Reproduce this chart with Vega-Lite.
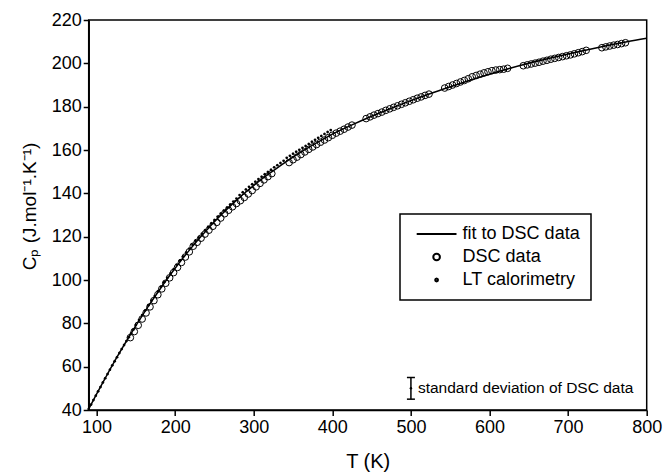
{
  "$schema": "https://vega.github.io/schema/vega-lite/v6.json",
  "width": 558,
  "height": 390,
  "autosize": {"type": "none"},
  "padding": {"left": 88.7, "top": 20, "right": 16.3, "bottom": 62},
  "background": "white",
  "config": {
    "font": "Liberation Sans",
    "view": {"stroke": "black", "strokeWidth": 1.5},
    "axis": {
      "domainColor": "black", "domainWidth": 1.5,
      "tickColor": "black", "tickWidth": 1.5, "tickSize": 5.5,
      "labelColor": "black", "labelFontSize": 18, "labelFont": "Liberation Sans",
      "labelOverlap": false, "labelBound": false, "labelFlush": false,
      "titleFont": "Liberation Sans", "titleFontSize": 20, "titleFontWeight": "normal", "titleColor": "black",
      "grid": false
    },
    "legend": {"strokeWidth": 1.5}
  },
  "datasets": {
    "fit": [
      {"T": 90, "Cp": 40.5}, {"T": 100, "Cp": 47.3}, {"T": 110, "Cp": 54}, {"T": 120, "Cp": 60.6},
      {"T": 130, "Cp": 66.9}, {"T": 140, "Cp": 73}, {"T": 150, "Cp": 78.9}, {"T": 160, "Cp": 84.6},
      {"T": 170, "Cp": 90.1}, {"T": 180, "Cp": 95.4}, {"T": 190, "Cp": 100.5}, {"T": 200, "Cp": 105.4},
      {"T": 210, "Cp": 110.1}, {"T": 220, "Cp": 114.6}, {"T": 230, "Cp": 118.9}, {"T": 240, "Cp": 123},
      {"T": 250, "Cp": 126.9}, {"T": 260, "Cp": 130.6}, {"T": 270, "Cp": 134.1}, {"T": 280, "Cp": 137.4},
      {"T": 290, "Cp": 140.6}, {"T": 300, "Cp": 143.6}, {"T": 310, "Cp": 146.5}, {"T": 320, "Cp": 149.2},
      {"T": 330, "Cp": 151.8}, {"T": 340, "Cp": 154.3}, {"T": 350, "Cp": 156.7}, {"T": 360, "Cp": 159},
      {"T": 370, "Cp": 161.2}, {"T": 380, "Cp": 163.3}, {"T": 390, "Cp": 165.3}, {"T": 400, "Cp": 167.3},
      {"T": 425, "Cp": 171.6}, {"T": 450, "Cp": 175.6}, {"T": 475, "Cp": 179.3}, {"T": 500, "Cp": 182.8},
      {"T": 525, "Cp": 186.1}, {"T": 550, "Cp": 189.2}, {"T": 575, "Cp": 192.2}, {"T": 600, "Cp": 195},
      {"T": 625, "Cp": 197.6}, {"T": 650, "Cp": 200}, {"T": 675, "Cp": 202.2}, {"T": 700, "Cp": 204.3},
      {"T": 725, "Cp": 206.3}, {"T": 750, "Cp": 208.2}, {"T": 775, "Cp": 210}, {"T": 800, "Cp": 211.6}
    ],
    "dsc": [
      {"T": 143, "Cp": 73.4}, {"T": 148, "Cp": 76.2}, {"T": 153, "Cp": 79.1}, {"T": 158, "Cp": 82},
      {"T": 163, "Cp": 84.8}, {"T": 168, "Cp": 87.6}, {"T": 173, "Cp": 90.5}, {"T": 178, "Cp": 93.2},
      {"T": 183, "Cp": 95.9}, {"T": 188, "Cp": 98.5}, {"T": 193, "Cp": 101}, {"T": 198, "Cp": 103.4},
      {"T": 203, "Cp": 105.8}, {"T": 208, "Cp": 108.1}, {"T": 213, "Cp": 110.6}, {"T": 218, "Cp": 113},
      {"T": 223, "Cp": 115.6}, {"T": 228, "Cp": 117.4}, {"T": 233, "Cp": 119.3}, {"T": 238, "Cp": 121.2},
      {"T": 243, "Cp": 123}, {"T": 248, "Cp": 124.8}, {"T": 253, "Cp": 126.6}, {"T": 258, "Cp": 128.6},
      {"T": 263, "Cp": 130.6}, {"T": 268, "Cp": 132.2}, {"T": 273, "Cp": 133.8}, {"T": 278, "Cp": 135.3},
      {"T": 283, "Cp": 136.6}, {"T": 288, "Cp": 138.1}, {"T": 293, "Cp": 139.7}, {"T": 298, "Cp": 141.3},
      {"T": 303, "Cp": 143}, {"T": 308, "Cp": 144.6}, {"T": 313, "Cp": 146.2}, {"T": 318, "Cp": 147.7},
      {"T": 323, "Cp": 149.1},
      {"T": 345, "Cp": 154.2}, {"T": 350, "Cp": 155.5}, {"T": 355, "Cp": 156.7}, {"T": 360, "Cp": 157.9},
      {"T": 365, "Cp": 159.1}, {"T": 370, "Cp": 160.3}, {"T": 375, "Cp": 161.4}, {"T": 380, "Cp": 162.5},
      {"T": 385, "Cp": 163.6}, {"T": 390, "Cp": 164.6}, {"T": 395, "Cp": 165.7}, {"T": 400, "Cp": 166.8},
      {"T": 405, "Cp": 167.8}, {"T": 410, "Cp": 168.7}, {"T": 415, "Cp": 169.6}, {"T": 420, "Cp": 170.6},
      {"T": 425, "Cp": 171.5},
      {"T": 443, "Cp": 174.5}, {"T": 448, "Cp": 175.3}, {"T": 453, "Cp": 176.1}, {"T": 458, "Cp": 176.8},
      {"T": 463, "Cp": 177.5}, {"T": 468, "Cp": 178.3}, {"T": 473, "Cp": 179}, {"T": 478, "Cp": 179.7},
      {"T": 483, "Cp": 180.4}, {"T": 488, "Cp": 181.1}, {"T": 493, "Cp": 181.8}, {"T": 498, "Cp": 182.5},
      {"T": 503, "Cp": 183.2}, {"T": 508, "Cp": 183.9}, {"T": 513, "Cp": 184.5}, {"T": 518, "Cp": 185.2},
      {"T": 523, "Cp": 185.8},
      {"T": 543, "Cp": 188.6}, {"T": 548, "Cp": 189.3}, {"T": 553, "Cp": 190}, {"T": 558, "Cp": 190.7},
      {"T": 563, "Cp": 191.4}, {"T": 568, "Cp": 192.1}, {"T": 573, "Cp": 192.9}, {"T": 578, "Cp": 193.8},
      {"T": 583, "Cp": 194.4}, {"T": 588, "Cp": 195}, {"T": 593, "Cp": 195.6}, {"T": 598, "Cp": 196.1},
      {"T": 603, "Cp": 196.6}, {"T": 608, "Cp": 196.9}, {"T": 613, "Cp": 197.1}, {"T": 618, "Cp": 197.3},
      {"T": 623, "Cp": 197.7},
      {"T": 643, "Cp": 198.9}, {"T": 648, "Cp": 199.3}, {"T": 653, "Cp": 199.7}, {"T": 658, "Cp": 200.1},
      {"T": 663, "Cp": 200.5}, {"T": 668, "Cp": 201}, {"T": 673, "Cp": 201.4}, {"T": 678, "Cp": 201.9},
      {"T": 683, "Cp": 202.3}, {"T": 688, "Cp": 202.7}, {"T": 693, "Cp": 203.1}, {"T": 698, "Cp": 203.5},
      {"T": 703, "Cp": 203.9}, {"T": 708, "Cp": 204.4}, {"T": 713, "Cp": 204.9}, {"T": 718, "Cp": 205.4},
      {"T": 723, "Cp": 206},
      {"T": 743, "Cp": 207.2}, {"T": 748, "Cp": 207.6}, {"T": 753, "Cp": 208}, {"T": 758, "Cp": 208.4},
      {"T": 763, "Cp": 208.7}, {"T": 768, "Cp": 209.1}, {"T": 773, "Cp": 209.5}
    ],
    "lt": [
      {"T": 90, "Cp": 40.5}, {"T": 93, "Cp": 42.5}, {"T": 96, "Cp": 44.6}, {"T": 99, "Cp": 46.6},
      {"T": 102, "Cp": 48.6}, {"T": 105, "Cp": 50.6}, {"T": 108, "Cp": 52.7}, {"T": 111, "Cp": 54.7},
      {"T": 114, "Cp": 56.6}, {"T": 117, "Cp": 58.6}, {"T": 120, "Cp": 60.6}, {"T": 123, "Cp": 62.5},
      {"T": 126, "Cp": 64.4}, {"T": 129, "Cp": 66.3}, {"T": 132, "Cp": 68.1}, {"T": 135, "Cp": 70},
      {"T": 138, "Cp": 71.8}, {"T": 141, "Cp": 73.6}, {"T": 144, "Cp": 75.4}, {"T": 147, "Cp": 77.2},
      {"T": 150, "Cp": 79.2}, {"T": 154, "Cp": 81.5}, {"T": 158, "Cp": 83.8}, {"T": 162, "Cp": 86},
      {"T": 166, "Cp": 88.3}, {"T": 170, "Cp": 90.5}, {"T": 174, "Cp": 92.6}, {"T": 178, "Cp": 94.8},
      {"T": 182, "Cp": 96.9}, {"T": 186, "Cp": 99}, {"T": 190, "Cp": 101}, {"T": 194, "Cp": 103},
      {"T": 198, "Cp": 105}, {"T": 202, "Cp": 107.1}, {"T": 206, "Cp": 109}, {"T": 210, "Cp": 110.9},
      {"T": 214, "Cp": 112.7}, {"T": 218, "Cp": 114.5}, {"T": 222, "Cp": 116.3}, {"T": 226, "Cp": 118},
      {"T": 230, "Cp": 119.7}, {"T": 234, "Cp": 121.4}, {"T": 238, "Cp": 123}, {"T": 242, "Cp": 124.6},
      {"T": 246, "Cp": 126.2}, {"T": 250, "Cp": 127.7}, {"T": 254, "Cp": 129.2}, {"T": 258, "Cp": 130.7},
      {"T": 262, "Cp": 132.1}, {"T": 266, "Cp": 133.5}, {"T": 270, "Cp": 134.9}, {"T": 274, "Cp": 136.2},
      {"T": 278, "Cp": 137.6}, {"T": 282, "Cp": 139.2}, {"T": 286, "Cp": 140.5}, {"T": 290, "Cp": 141.8},
      {"T": 294, "Cp": 143}, {"T": 298, "Cp": 144.2}, {"T": 302, "Cp": 145.4}, {"T": 306, "Cp": 146.6},
      {"T": 310, "Cp": 147.7}, {"T": 314, "Cp": 148.8}, {"T": 318, "Cp": 149.9}, {"T": 322, "Cp": 150.9},
      {"T": 326, "Cp": 152}, {"T": 330, "Cp": 153}, {"T": 334, "Cp": 154}, {"T": 338, "Cp": 155},
      {"T": 342, "Cp": 156.4}, {"T": 346, "Cp": 157.3}, {"T": 350, "Cp": 158.3}, {"T": 354, "Cp": 159.2},
      {"T": 358, "Cp": 160.1}, {"T": 362, "Cp": 161}, {"T": 366, "Cp": 161.9}, {"T": 370, "Cp": 162.8},
      {"T": 374, "Cp": 163.8}, {"T": 378, "Cp": 164.7}, {"T": 382, "Cp": 165.6}, {"T": 386, "Cp": 166.5},
      {"T": 390, "Cp": 167.4}, {"T": 394, "Cp": 168.3}, {"T": 398, "Cp": 169.2}
    ],
    "sd": [
      {"T": 500, "Cp": 50, "lo": 45, "hi": 55, "label": "standard deviation of DSC data"}
    ]
  },
  "encoding": {
    "x": {
      "field": "T", "type": "quantitative",
      "scale": {"domain": [90, 800], "nice": false, "zero": false},
      "axis": {
        "values": [100, 200, 300, 400, 500, 600, 700, 800],
        "title": "T (K)", "titleX": 279, "titleY": 57,
        "titleBaseline": "alphabetic", "titleAlign": "center", "labelPadding": 3
      }
    },
    "y": {
      "field": "Cp", "type": "quantitative",
      "scale": {"domain": [40, 220], "nice": false, "zero": false},
      "axis": {
        "values": [40, 60, 80, 100, 120, 140, 160, 180, 200, 220],
        "title": "Cₚ (J.mol⁻¹.K⁻¹)", "titleX": -53, "titleY": 186, "titleAngle": 270,
        "titleFontSize": 19, "titleBaseline": "alphabetic", "titleAlign": "center", "labelPadding": 2
      }
    }
  },
  "layer": [
    {
      "data": {"name": "fit"},
      "mark": {"type": "line", "color": "black", "strokeWidth": 1.5, "interpolate": "monotone"}
    },
    {
      "data": {"name": "dsc"},
      "mark": {"type": "point", "filled": false, "stroke": "black", "color": "black", "strokeWidth": 1, "size": 44, "opacity": 1},
      "encoding": {
        "shape": {
          "datum": "DSC data", "type": "nominal",
          "scale": {
            "domain": ["fit to DSC data", "DSC data", "LT calorimetry"],
            "range": ["M-6,0H6", "circle", "M0.42,0L0.3,0.3L0,0.42L-0.3,0.3L-0.42,0L-0.3,-0.3L0,-0.42L0.3,-0.3Z"]
          },
          "legend": {
            "title": null, "orient": "none", "legendX": 311.3, "legendY": 194,
            "strokeColor": "black", "fillColor": "white", "padding": 11,
            "labelFontSize": 18, "labelColor": "black", "labelFont": "Liberation Sans",
            "symbolSize": 44, "symbolOffset": 16.6, "labelOffset": 17, "rowPadding": 5,
            "symbolStrokeColor": "black", "symbolStrokeWidth": 2, "symbolOpacity": 1
          }
        }
      }
    },
    {
      "data": {"name": "lt"},
      "mark": {"type": "point", "filled": true, "color": "black", "size": 44, "opacity": 1},
      "encoding": {
        "shape": {"datum": "LT calorimetry", "type": "nominal"}
      }
    },
    {
      "data": {"name": "sd"},
      "mark": {"type": "rule", "color": "black", "strokeWidth": 1.5},
      "encoding": {"y": {"field": "lo", "type": "quantitative"}, "y2": {"field": "hi"}}
    },
    {
      "data": {"name": "sd"},
      "mark": {"type": "tick", "orient": "horizontal", "color": "black", "size": 8, "thickness": 1.5, "opacity": 1},
      "encoding": {"y": {"field": "lo", "type": "quantitative"}}
    },
    {
      "data": {"name": "sd"},
      "mark": {"type": "tick", "orient": "horizontal", "color": "black", "size": 8, "thickness": 1.5, "opacity": 1},
      "encoding": {"y": {"field": "hi", "type": "quantitative"}}
    },
    {
      "data": {"name": "sd"},
      "mark": {"type": "point", "filled": true, "color": "black", "size": 6, "opacity": 1}
    },
    {
      "data": {"name": "sd"},
      "mark": {"type": "text", "align": "left", "baseline": "middle", "dx": 7, "fontSize": 15.5, "color": "black", "font": "Liberation Sans"},
      "encoding": {"text": {"field": "label"}}
    }
  ]
}
